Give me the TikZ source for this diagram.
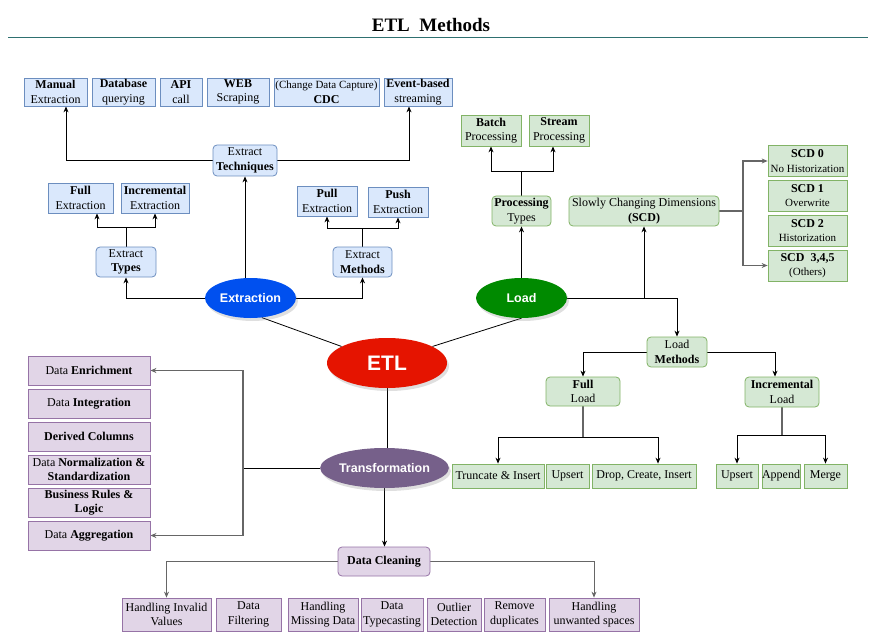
\documentclass[tikz,border=0pt]{standalone}
\usepackage{fontspec}
\setmainfont{Liberation Serif}
\newfontfamily\ellfont{Liberation Sans}
\usetikzlibrary{shapes.geometric, arrows.meta, shadows, backgrounds}

\definecolor{blfill}{HTML}{DAE8FC}
\definecolor{bldraw}{HTML}{6C8EBF}
\definecolor{grfill}{HTML}{D5E8D4}
\definecolor{grdraw}{HTML}{82B366}
\definecolor{pufill}{HTML}{E1D5E7}
\definecolor{pudraw}{HTML}{9673A6}
\definecolor{extrblue}{HTML}{0050EF}
\definecolor{etlred}{HTML}{E51400}
\definecolor{loadgreen}{HTML}{008A00}
\definecolor{transpurple}{HTML}{76608A}
\definecolor{titleline}{HTML}{2E7070}

\tikzset{
  box/.style={rectangle, draw, inner sep=0pt, align=center, line width=0.8pt,
    font=\fontsize{12}{14.5}\selectfont},
  bluebox/.style={box, draw=bldraw, fill=blfill},
  greenbox/.style={box, draw=grdraw, fill=grfill},
  purplebox/.style={box, draw=pudraw, fill=pufill},
  rbox/.style={rounded corners=4pt},
  sz/.style 2 args={minimum width=#1pt, minimum height=#2pt},
  hub/.style={ellipse, draw=none, text=white, inner sep=0pt,
    font=\ellfont\bfseries\fontsize{12.5}{15}\selectfont,
    drop shadow={shadow xshift=2pt, shadow yshift=-3pt, opacity=0.25}},
  arr/.style={-{Stealth[length=6pt, width=5pt]}},
  link/.style={line width=0.8pt},
  glink/.style={link, draw=gray!80!black},
}

\begin{document}
\begin{tikzpicture}[x=1pt, y=-1pt]
\useasboundingbox (0,0) rectangle (878,639);

% title
\node (title) at (431,25) {\fontsize{19}{21}\selectfont\bfseries ETL\ \ Methods};
\draw[titleline, line width=0.8pt] (8,37) -- (868,37);

% hubs
\node[hub, fill=etlred, sz={120}{50}, font=\ellfont\bfseries\fontsize{21}{24}\selectfont] (etl) at (387,363) {ETL};
\node[hub, fill=extrblue, sz={91}{40}] (extr) at (250.5,298) {Extraction};
\node[hub, fill=loadgreen, sz={91}{40}] (load) at (521.5,298) {Load};
\node[hub, fill=transpurple, sz={95}{40}] (trans) at (384.5,468) {Transformation};

% extraction
\foreach \n/\x/\w/\t in {man/55.5/63/{\textbf{Manual}\\Extraction}, dbq/123.5/63/{\textbf{Database}\\querying},
    api/181/42/{\textbf{API}\\call}, web/238/62/{\textbf{WEB}\\Scraping},
    cdc/326.5/105/{{\fontsize{11}{12}\selectfont(Change Data Capture)}\\\textbf{CDC}},
    evt/418/68/{\textbf{Event-based}\\streaming}} {
  \node[bluebox, sz={\w}{28}] (\n) at (\x,92) {\t};
}
\node[bluebox, rbox, sz={64}{31}] (tech) at (245,160.5) {Extract\\\textbf{Techniques}};
\node[bluebox, sz={65}{30}] (full) at (80.5,198) {\textbf{Full}\\Extraction};
\node[bluebox, sz={68}{30}] (incr) at (155,198) {\textbf{Incremental}\\Extraction};
\node[bluebox, rbox, sz={60}{30}] (types) at (126,262) {Extract\\\textbf{Types}};
\node[bluebox, sz={60}{30}] (pull) at (327,201) {\textbf{Pull}\\Extraction};
\node[bluebox, sz={60}{30}] (push) at (398,202) {\textbf{Push}\\Extraction};
\node[bluebox, rbox, sz={59}{30}] (meth) at (362.5,262) {Extract\\\textbf{Methods}};

% load
\node[greenbox, sz={60}{31}] (batch) at (491,130.5) {\textbf{Batch}\\Processing};
\node[greenbox, sz={60}{31}] (stream) at (559,130.5) {\textbf{Stream}\\Processing};
\node[greenbox, rbox, sz={59}{30}] (proc) at (521.5,211) {\textbf{Processing}\\Types};
\node[greenbox, rbox, sz={150}{30}] (scd) at (644,211) {Slowly Changing Dimensions\\\textbf{(SCD)}};
\foreach \n/\y/\a/\b in {scd0/161/SCD 0/No Historization, scd1/195.5/SCD 1/Overwrite,
    scd2/230.5/SCD 2/Historization, scd3/265.5/{SCD\ \ 3,4,5}/(Others)} {
  \node[greenbox, sz={79}{31}] (\n) at (807.5,\y) {\textbf{\a}\\{\fontsize{11}{12}\selectfont\b}};
}
\node[greenbox, rbox, sz={60}{30}] (lmeth) at (677,352) {Load\\\textbf{Methods}};
\node[greenbox, rbox, sz={74}{29}] (fulld) at (583,391.5) {\textbf{Full}\\Load};
\node[greenbox, rbox, sz={74}{30}] (incld) at (782,392) {\textbf{Incremental}\\Load};
\foreach \n/\x/\w/\t in {trunc/498/92/Truncate \& Insert, ups1/567.5/43/Upsert, dci/644/104/{Drop, Create, Insert},
    ups2/737/42/Upsert, app/781/36/Append, mrg/825.5/43/Merge} {
  \node[greenbox, sz={\w}{24}] (\n) at (\x,476) {\t};
}

% transformation
\foreach \n/\y/\t in {enr/370.5/{Data \textbf{Enrichment}}, intg/403.5/{Data \textbf{Integration}},
    der/436.5/{\textbf{Derived Columns}}, norm/469.5/{Data \textbf{Normalization \&}\\\textbf{Standardization}},
    bus/502.5/{\textbf{Business Rules \&}\\\textbf{Logic}}, agg/535.5/{Data \textbf{Aggregation}}} {
  \node[purplebox, sz={122}{29}] (\n) at (89,\y) {\t};
}
\node[purplebox, rbox, sz={92}{29}] (clean) at (384,561.5) {\textbf{Data Cleaning}};
\foreach \n/\x/\w/\t in {hinv/166.5/89/{Handling Invalid\\Values}, filt/248.5/65/{Data\\Filtering},
    miss/323/70/{Handling\\Missing Data}, typc/392/62/{Data\\Typecasting}, outl/454/54/{Outlier\\Detection},
    dup/514.5/61/{Remove\\duplicates}, spc/594/90/{Handling\\unwanted spaces}} {
  \node[purplebox, sz={\w}{33}] (\n) at (\x,614.5) {\t};
}

% connectors
\coordinate (tyfork) at (126,227);
\coordinate (mefork) at (362.5,228);
\coordinate (prfork) at (521.5,171);
\coordinate (scfork) at (743,211);
\coordinate (flfork) at (583,437);
\coordinate (ilfork) at (782,435);
\coordinate (trfork) at (243,468);
\begin{scope}[on background layer]
  \draw[link] (etl.160) -- (extr.300);
  \draw[link] (etl.20) -- (load.south);
  \draw[link] (etl.south) -- (etl.south |- trans.north);

  \draw[link, arr] (extr.center -| tech.south) -- (tech.south);
  \draw[link, arr] (tech.west) -| ([xshift=10.5pt]man.south);
  \draw[link, arr] (tech.east) -| ([xshift=-9pt]evt.south);
  \draw[link, arr] (extr.west) -| (types.south);
  \draw[link, arr] (extr.east) -| (meth.south);
  \draw[link] (types.north) -- (tyfork);
  \draw[link, arr] (tyfork) -| ([xshift=16.5pt]full.south);
  \draw[link, arr] (tyfork) -| (incr.south);
  \draw[link] (meth.north) -- (mefork);
  \draw[link, arr] (mefork) -| (pull.south);
  \draw[link, arr] (mefork) -| (push.south);

  \draw[link, arr] (load.center) -- (proc.south);
  \draw[link] (proc.north) -- (prfork);
  \draw[link, arr] (prfork) -| (batch.south);
  \draw[link, arr] (prfork) -| ([xshift=-6pt]stream.south);
  \draw[link, arr] (load.east) -| (lmeth.north);
  \draw[link, arr] (load.east -| scd.south) -- (scd.south);
  \draw[glink, line width=1.2pt] (scd.east) -- (scfork);
  \draw[glink, line width=1.2pt, arr] (scfork) |- (scd0.west);
  \draw[glink, line width=1.2pt, arr] (scfork) |- (scd3.west);

  \draw[link, arr] (lmeth.west) -| (fulld.north);
  \draw[link, arr] (lmeth.east) -| ([xshift=-7pt]incld.north);
  \draw[glink, line width=1.2pt] (fulld.south) -- (flfork);
  \draw[link, arr] (flfork) -| (trunc.north);
  \draw[link, arr] (flfork) -| ([xshift=14pt]dci.north);
  \draw[glink, line width=1.2pt] (incld.south) -- (ilfork);
  \draw[link, arr] (ilfork) -| (ups2.north);
  \draw[link, arr] (ilfork) -| (mrg.north);

  \draw[link] (trans.west) -- (trfork);
  \draw[glink, line width=1.2pt, arr] (trfork) |- (enr.east);
  \draw[glink, line width=1.2pt, arr] (trfork) |- (agg.east);
  \draw[link, arr] (trans.center) -- (trans.center |- clean.north);
  \draw[glink, arr] (clean.west) -| (hinv.north);
  \draw[glink, arr] (clean.east) -| (spc.north);
\end{scope}
\end{tikzpicture}
\end{document}
